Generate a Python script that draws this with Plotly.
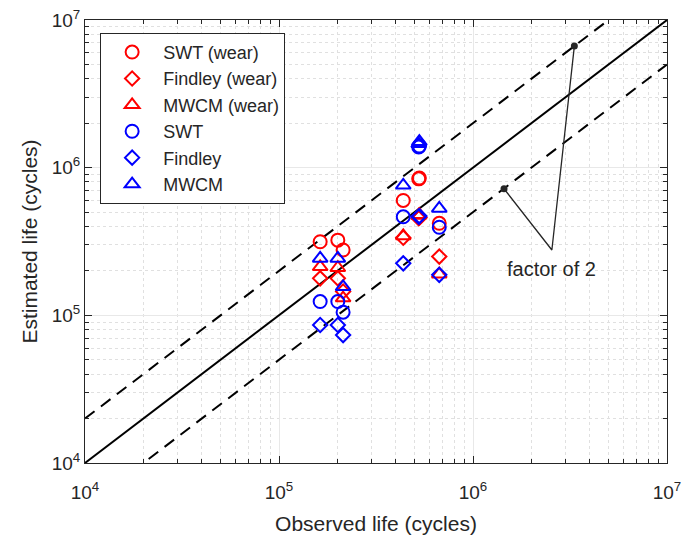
import math
import plotly.graph_objects as go

# ---------------- data ----------------
# observed life (cycles) and estimated life for each criterion
obs_wear = [1.63e5, 2.01e5, 2.14e5, 4.37e5, 5.29e5, 5.25e5, 6.7e5]
swt_wear = [3.15e5, 3.23e5, 2.77e5, 6.0e5, 8.5e5, 8.4e5, 4.2e5]
findley_wear = [1.78e5, 1.78e5, 1.45e5, 3.35e5, 4.6e5, 4.55e5, 2.5e5]
mwcm_wear = [2.13e5, 2.1e5, 1.31e5, 3.45e5, 4.8e5, 4.75e5, 1.9e5]

obs = [1.63e5, 2.01e5, 2.14e5, 4.37e5, 5.29e5, 5.25e5, 6.7e5]
swt = [1.24e5, 1.24e5, 1.05e5, 4.65e5, 1.4e6, 1.38e6, 3.95e5]
findley = [8.6e4, 8.6e4, 7.35e4, 2.25e5, 4.7e5, 4.65e5, 1.88e5]
mwcm = [2.43e5, 2.43e5, 1.56e5, 7.6e5, 1.5e6, 1.45e6, 5.3e5]

line_x = [1e4, 1e7]
factors = [1, 2, 0.5]

# factor-of-2 annotation
ann_upper = (3.33e6, 6.66e6)
ann_lower = (1.445e6, 7.2e5)
ann_vertex = (2.55e6, 2.77e5)
ann_text_pos = (2.55e6, 2.05e5)
ann_text = "factor of 2"

tick_vals = [1e4, 1e5, 1e6, 1e7]
tick_text = ["10<sup>4</sup>", "10<sup>5</sup>", "10<sup>6</sup>", "10<sup>7</sup>"]
minor_vals = [m * 10 ** e for e in range(4, 7) for m in range(2, 10)]

RED = "#ff0000"
BLUE = "#0000ff"
DARK = "#262626"
FONT = "Liberation Sans, Arial, Helvetica, sans-serif"

fig = go.Figure()

# reference lines
for f in factors:
    fig.add_trace(go.Scatter(
        x=line_x, y=[v * f for v in line_x], mode="lines",
        line=dict(color="black", width=2, dash="solid" if f == 1 else "12px,8px"),
        showlegend=False, hoverinfo="skip"))

# annotation lines
fig.add_trace(go.Scatter(
    x=[ann_upper[0], ann_vertex[0], ann_lower[0]],
    y=[ann_upper[1], ann_vertex[1], ann_lower[1]],
    mode="lines", line=dict(color=DARK, width=1.3),
    showlegend=False, hoverinfo="skip"))
fig.add_trace(go.Scatter(
    x=[ann_upper[0], ann_lower[0]], y=[ann_upper[1], ann_lower[1]],
    mode="markers", marker=dict(color=DARK, size=7),
    showlegend=False, hoverinfo="skip"))

series = [
    ("SWT (wear)", obs_wear, swt_wear, "circle-open", RED, 13),
    ("Findley (wear)", obs_wear, findley_wear, "diamond-open", RED, 11),
    ("MWCM (wear)", obs_wear, mwcm_wear, "triangle-up-open", RED, 13),
    ("SWT", obs, swt, "circle-open", BLUE, 13),
    ("Findley", obs, findley, "diamond-open", BLUE, 11),
    ("MWCM", obs, mwcm, "triangle-up-open", BLUE, 13),
]
for name, xs, ys, sym, col, sz in series:
    fig.add_trace(go.Scatter(
        x=xs, y=ys, mode="markers", name=name,
        marker=dict(symbol=sym, size=sz, color=col, line=dict(width=2, color=col))))

# annotations on log axes use log10 coordinates
fig.add_annotation(x=math.log10(ann_text_pos[0]), y=math.log10(ann_text_pos[1]),
                   xref="x", yref="y", text=ann_text, showarrow=False,
                   font=dict(size=20, color=DARK, family=FONT))

axis_common = dict(
    type="log", tickvals=tick_vals, ticktext=tick_text,
    ticks="inside", ticklen=7, tickcolor=DARK, tickwidth=1,
    showline=True, linecolor=DARK, linewidth=1, mirror="ticks",
    showgrid=True, gridcolor="#e8e8e8", gridwidth=1,
    zeroline=False, automargin=False,
    tickfont=dict(size=19, color=DARK, family=FONT),
    minor=dict(tickvals=minor_vals, ticks="inside", ticklen=4, tickcolor=DARK,
               showgrid=True, gridcolor="#e0e0e0", griddash="dot", gridwidth=1),
)

fig.update_xaxes(range=[4, 7], ticklabelstandoff=12,
                 title=dict(text="Observed life (cycles)",
                            font=dict(size=21, color=DARK, family=FONT), standoff=14),
                 **axis_common)
fig.update_yaxes(range=[4, 7], title=dict(text="Estimated life (cycles)",
                 font=dict(size=21, color=DARK, family=FONT), standoff=8), **axis_common)

fig.update_layout(
    width=686, height=542,
    margin=dict(l=85, r=19, t=20, b=79),
    paper_bgcolor="white", plot_bgcolor="white",
    font=dict(family=FONT, color=DARK),
    legend=dict(x=0.026, y=0.971, xanchor="left", yanchor="top",
                bgcolor="white", bordercolor=DARK, borderwidth=1,
                font=dict(size=18, color=DARK, family=FONT),
                itemwidth=52, tracegroupgap=0),
)

fig.write_html("out.html")
